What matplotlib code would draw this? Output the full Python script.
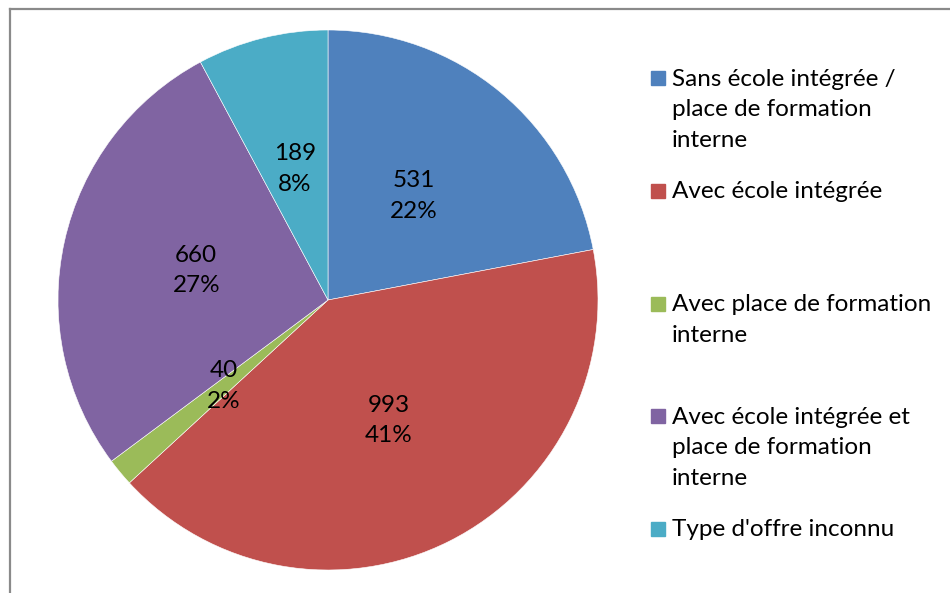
import matplotlib
matplotlib.use("Agg")
import matplotlib.pyplot as plt
from matplotlib.lines import Line2D
from matplotlib.patches import Rectangle

# data
categories = [
    "Sans école intégrée /\nplace de formation\ninterne",
    "Avec école intégrée",
    "Avec place de formation\ninterne",
    "Avec école intégrée et\nplace de formation\ninterne",
    "Type d'offre inconnu",
]
counts = [531, 993, 40, 660, 189]
colors = ["#4F81BD", "#C0504D", "#9BBB59", "#8064A2", "#4BACC6"]

plt.rcParams["font.family"] = ["Lato", "DejaVu Sans"]
FS = 17.5
LS = 1.55

W, H = 950, 593
fig = plt.figure(figsize=(W / 100, H / 100), dpi=100)

# pie axes: centre (328, 300) px, radius 270 px
cx, cy, r = 328, 300, 270
ax = fig.add_axes([(cx - r) / W, (H - cy - r) / H, 2 * r / W, 2 * r / H])

total = sum(counts)


def fmt(pct):
    n = int(round(pct * total / 100.0))
    return f"{n}\n{pct:.0f}%"


wedges, _, autotexts = ax.pie(
    counts, colors=colors, startangle=90, counterclock=False,
    autopct=fmt, pctdistance=0.5, radius=1,
    wedgeprops=dict(edgecolor="white", linewidth=0.4),
    textprops=dict(fontsize=FS, color="black", linespacing=LS),
)
ax.set_xlim(-1, 1)
ax.set_ylim(-1, 1)
ax.set_aspect("equal")
ax.axis("off")

# legend drawn by hand (Excel-style uneven spacing)
legend_y = [78, 191, 304, 416, 529]  # first-line centres, px from top
step = 32
for lab, col, y in zip(categories, colors, legend_y):
    fig.add_artist(Rectangle((651 / W, 1 - (y + 7) / H), 14 / W, 14 / H,
                             transform=fig.transFigure, color=col))
    nlines = lab.count("\n") + 1
    yc = y + (nlines - 1) * step / 2
    fig.text(672 / W, 1 - yc / H, lab, fontsize=FS, va="center", ha="left",
             linespacing=LS)

# chart frame (only left and top edges visible)
frame = dict(color="#8a8a8a", lw=1.6, transform=fig.transFigure)
fig.add_artist(Line2D([9.5 / W, 9.5 / W], [0, 1 - 8.5 / H], **frame))
fig.add_artist(Line2D([9.5 / W, 1], [1 - 8.5 / H, 1 - 8.5 / H], **frame))

fig.savefig("out.png", dpi=100, facecolor="white")
